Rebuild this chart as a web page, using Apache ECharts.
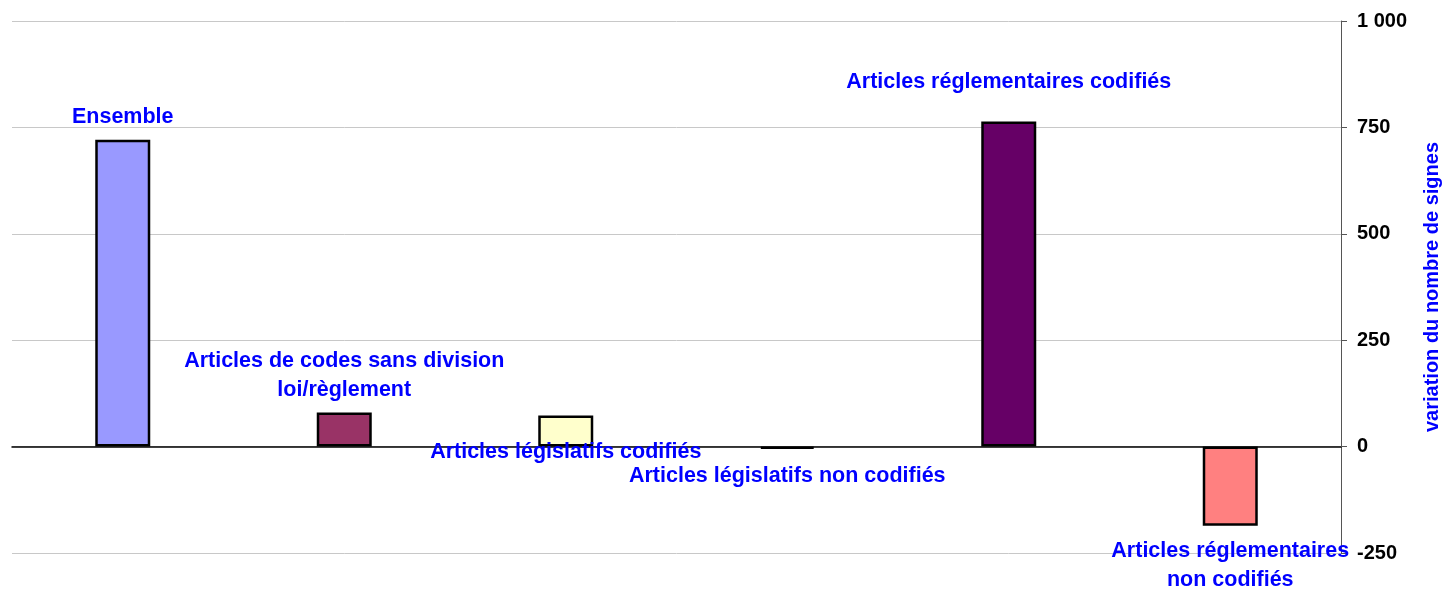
<!DOCTYPE html>
<html>
<head>
    <meta charset="utf-8">
    <title>variation du nombre de signes</title>
    <script src="https://cdn.jsdelivr.net/npm/echarts@6/dist/echarts.min.js"></script>
</head>
<body style="margin:0;">
    <div id="main" style="width: 1446px;height:589px;"></div>
    <script type="text/javascript">
        // categories and values
        var categories = [
            'Ensemble',
            'Articles de codes sans division\nloi/règlement',
            'Articles législatifs codifiés',
            'Articles législatifs non codifiés',
            'Articles réglementaires codifiés',
            'Articles réglementaires\nnon codifiés'
        ];
        var values = [721, 80, 73, -5, 764, -186];
        var colors = ['#9999FF', '#993366', '#FFFFCC', '#000000', '#660066', '#FF8080'];
        var labelOffsets = [[0, -176], [0, -54], [0, 21], [0, 28], [0, -202], [0, 79]];

        var myChart = echarts.init(document.getElementById('main'));

        var data = values.map(function (v, i) {
            return {
                value: v,
                itemStyle: { color: colors[i] },
                label: { offset: labelOffsets[i] }
            };
        });

        var option = {
            animation: false,
            grid: { left: 12, right: 105, top: 21, bottom: 36, outerBoundsMode: 'none', containLabel: false },
            xAxis: {
                type: 'category',
                data: categories,
                axisLine: { onZero: true, lineStyle: { color: '#000', width: 1.5 } },
                axisTick: { show: false },
                axisLabel: { show: false },
                splitLine: { show: false }
            },
            yAxis: {
                type: 'value',
                position: 'right',
                min: -250,
                max: 1000,
                interval: 250,
                name: 'variation du nombre de signes',
                nameLocation: 'middle',
                nameRotate: 90,
                nameGap: 81,
                nameTextStyle: {
                    color: '#0000FF',
                    fontFamily: 'Liberation Sans',
                    fontWeight: 'bold',
                    fontSize: 20
                },
                axisLine: { show: true, lineStyle: { color: '#555', width: 1 } },
                axisTick: { show: true, inside: false, length: 6, lineStyle: { color: '#555' } },
                axisLabel: {
                    margin: 16,
                    color: '#000',
                    fontFamily: 'Liberation Sans',
                    fontWeight: 'bold',
                    fontSize: 20,
                    formatter: function (v) {
                        return v === 1000 ? '1 000' : String(v);
                    }
                },
                splitLine: { show: true, lineStyle: { color: '#c8c8c8', width: 1 } }
            },
            series: [{
                type: 'bar',
                barWidth: 55,
                data: data,
                itemStyle: { borderColor: '#000', borderWidth: 2.5 },
                label: {
                    show: true,
                    position: 'inside',
                    formatter: '{b}',
                    align: 'center',
                    color: '#0000FF',
                    fontFamily: 'Liberation Sans',
                    fontWeight: 'bold',
                    fontSize: 21.5,
                    lineHeight: 29
                }
            }]
        };

        myChart.setOption(option);
    </script>
</body>
</html>
